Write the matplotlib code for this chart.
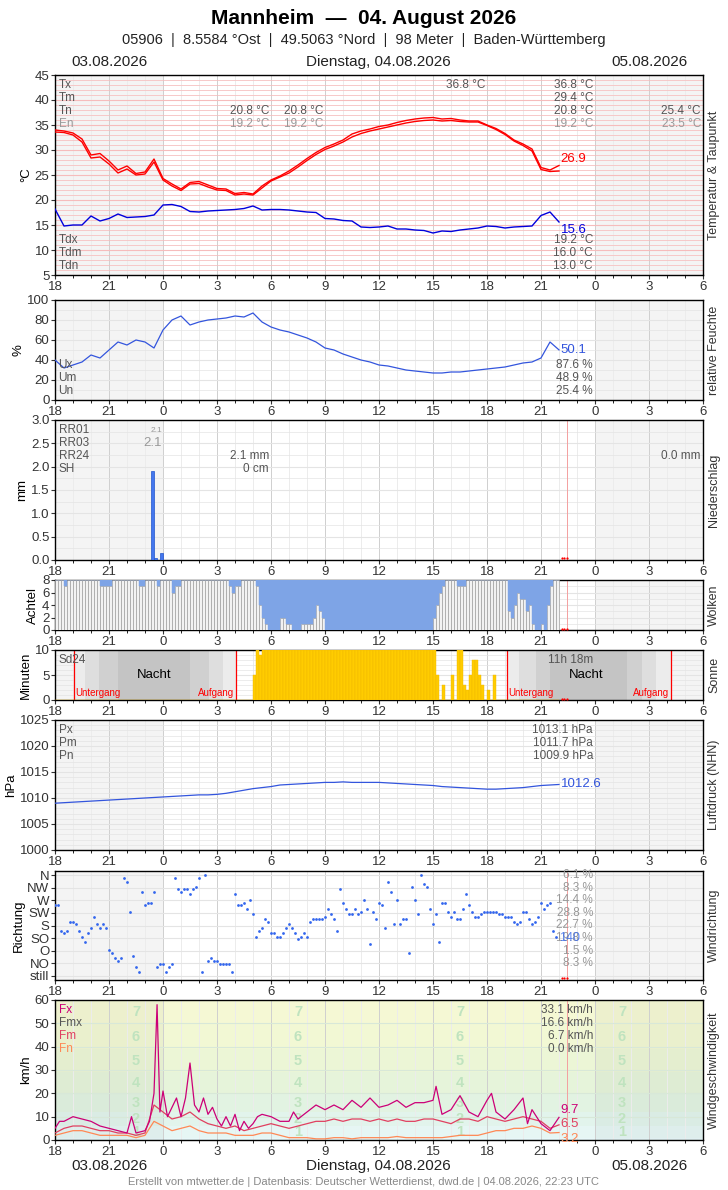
import numpy as np
import matplotlib
matplotlib.use("Agg")
import matplotlib.pyplot as plt

plt.rcParams['font.family'] = ['Liberation Sans', 'DejaVu Sans']

# ---------------- data ----------------
xtick_labels = ['18', '21', '0', '3', '6', '9', '12', '15', '18', '21', '0', '3', '6']

temp_a = [34.0, 33.8, 33.4, 32.2, 29.0, 29.3, 27.8, 26.0, 26.8, 25.3, 25.6, 28.2,
          24.3, 23.2, 22.2, 23.5, 23.7, 23.0, 22.3, 22.2, 21.3, 21.5, 21.2, 22.8,
          24.0, 24.8, 25.8, 27.0, 28.3, 29.5, 30.5, 31.2, 32.0, 33.2, 33.8, 34.2,
          34.7, 35.0, 35.5, 35.9, 36.2, 36.4, 36.5, 36.2, 36.3, 36.0, 35.8, 35.8,
          35.0, 34.3, 33.3, 32.0, 31.2, 30.2, 26.5, 26.0, 26.9]
temp_b = [33.6, 33.5, 33.0, 31.6, 28.4, 28.6, 27.2, 25.4, 26.2, 25.0, 25.2, 27.6,
          24.0, 22.8, 21.9, 23.2, 23.3, 22.6, 22.0, 21.9, 21.0, 21.2, 21.0, 22.4,
          23.8, 24.6, 25.4, 26.6, 27.9, 29.1, 30.1, 30.8, 31.6, 32.6, 33.3, 33.8,
          34.2, 34.6, 35.0, 35.4, 35.7, 35.9, 36.0, 35.8, 35.9, 35.7, 35.6, 35.6,
          34.9, 34.1, 33.1, 31.8, 30.9, 29.8, 26.1, 25.7, 25.8]
dewpoint = [18.2, 14.8, 15.0, 15.0, 16.8, 15.8, 16.3, 17.2, 16.5, 16.6, 16.7, 17.0,
            19.0, 19.1, 18.7, 17.7, 17.6, 17.8, 17.9, 18.0, 18.1, 18.3, 18.8, 18.0,
            18.1, 18.1, 18.0, 17.8, 17.6, 17.5, 16.3, 16.2, 15.9, 15.8, 14.6, 14.5,
            14.6, 14.8, 14.2, 14.2, 14.0, 13.9, 13.4, 13.8, 13.7, 14.0, 14.2, 14.4,
            14.8, 14.7, 14.4, 14.6, 14.7, 14.8, 16.9, 17.6, 15.6]
humidity = [40, 32, 35, 38, 45, 42, 50, 58, 55, 60, 58, 52,
            70, 80, 84, 75, 78, 80, 81, 82, 84, 83, 87, 78,
            73, 70, 68, 65, 62, 58, 52, 50, 46, 43, 40, 38,
            35, 34, 32, 30, 29, 28, 27, 27, 28, 28, 29, 30,
            31, 32, 33, 35, 37, 38, 42, 58, 50.1]
pressure = [1009.0, 1009.1, 1009.2, 1009.3, 1009.4, 1009.5, 1009.6, 1009.7, 1009.8, 1009.9, 1010.0, 1010.1,
            1010.2, 1010.3, 1010.4, 1010.5, 1010.6, 1010.6, 1010.7, 1010.9, 1011.2, 1011.5, 1011.8, 1012.0,
            1012.2, 1012.5, 1012.6, 1012.7, 1012.8, 1012.9, 1013.0, 1013.0, 1013.1, 1013.0, 1013.0, 1013.0,
            1013.0, 1012.9, 1012.8, 1012.7, 1012.6, 1012.5, 1012.4, 1012.2, 1012.1, 1012.0, 1011.9, 1011.8,
            1011.7, 1011.7, 1011.8, 1011.9, 1012.0, 1012.2, 1012.4, 1012.5, 1012.6]
wind_mean = [3, 5, 6, 6, 5, 4, 4, 3, 3, 2, 3, 15,
             12, 9, 10, 12, 9, 7, 6, 5, 6, 4, 5, 6,
             7, 6, 5, 6, 7, 8, 8, 9, 8, 9, 9, 8,
             9, 8, 9, 8, 8, 9, 9, 8, 7, 9, 9, 8,
             10, 9, 8, 9, 10, 9, 8, 5, 6.5]
wind_min = [2, 3, 4, 4, 3, 2, 2, 2, 2, 1, 2, 8,
            6, 4, 5, 6, 4, 3, 3, 3, 2, 2, 2, 3,
            3, 2, 1, 1, 1, 0.5, 0.5, 1, 1, 0.5, 1, 1,
            1, 1, 1.5, 1, 1, 1, 1, 1, 1.5, 2, 2, 2,
            3, 4, 4, 5, 5, 6, 5, 3, 3.2]
gust_t = [0, 0.25, 0.5, 1, 1.5, 2, 2.5, 3, 3.5, 4, 4.25, 4.5, 5, 5.25, 5.5, 5.67, 5.83, 6, 6.25, 6.5,
          6.75, 7, 7.25, 7.5, 7.75, 8, 8.25, 8.5, 8.75, 9, 9.25, 9.5, 9.75, 10, 10.25, 10.5, 10.75, 11,
          11.25, 11.5, 12, 12.5, 13, 13.25, 13.5, 14, 14.5, 15, 15.5, 16, 16.5, 17, 17.5, 18, 18.5, 19,
          19.5, 20, 20.5, 21, 21.17, 21.5, 22, 22.5, 23, 23.5, 24, 24.25, 24.5, 25, 25.5, 26, 26.25,
          26.5, 27, 27.5, 28]
gust_v = [5, 8, 8, 10, 9, 8, 6, 5, 4, 3, 10, 3, 4, 8, 20, 58, 12, 21, 10, 14,
          18, 10, 18, 33, 15, 12, 18, 11, 14, 9, 6, 10, 6, 11, 4, 8, 5, 7,
          10, 11, 10, 8, 8, 12, 9, 12, 15, 13, 15, 13, 17, 14, 18, 14, 15, 17,
          14, 16, 16, 17, 23, 11, 13, 19, 12, 10, 17, 20, 12, 9, 13, 18, 7,
          13, 7, 4, 9.7]

clouds = ([8, 8, 8, 7, 8, 8] + [8] * 6 + [8, 8, 8, 7, 7, 7] + [7, 8, 8, 8, 8, 8] +
          [8, 8, 8, 8, 7, 7] + [8, 8, 8, 8, 7, 8] + [8, 8, 8, 6, 7, 7] + [8] * 6 + [8] * 6 +
          [8, 8, 8, 8, 7, 6] + [7, 7, 8, 8, 8, 8] + [8, 7, 4, 2, 1, 0] + [0, 0, 0, 2, 2, 1] +
          [1, 0, 0, 0, 1, 1] + [1, 1, 2, 4, 3, 2] + [0] * 36 + [2, 4, 6, 7, 8, 8] +
          [8, 8, 7, 7, 7, 8] + [8] * 12 + [8, 3, 2, 4, 6, 5] + [5, 3, 4, 1, 0, 0] + [1, 0, 4, 7, 8, 8])
sunshine = ([0] * 66 + [5, 10, 9, 10, 10, 10] + [10] * 54 + [10, 5, 0, 3, 0, 0] +
            [5, 0, 10, 10, 3, 2] + [5, 8, 8, 5, 3, 0] + [2, 0, 5, 0, 0, 0] + [0] * 18)
precip_t = [5.33, 5.5, 5.83]
precip_v = [1.9, 0.05, 0.15]

wind_dir = [5.6, 5.6, 3.6, 3.4, 3.6, 4.3, 4.3, 4.1, 3.6, 3.1, 2.7, 3.4, 3.8, 4.7, 4.1, 3.8, 4.1, 3.8,
            2.05, 1.8, 1.4, 1.2, 1.4, 7.8, 7.5, 5.1, 1.6, 0.7, 0.3, 6.7, 5.6, 5.8, 5.8, 6.7, 0.7, 0.9,
            0.9, 0.3, 0.7, 0.9, 7.8, 6.9, 6.7, 6.9, 6.9, 6.5, 6.9, 7.1, 7.8, 0.3, 8.0, 1.2, 1.4, 1.2,
            1.2, 0.9, 0.9, 0.9, 0.9, 0.3, 6.5, 5.6, 5.6, 5.8, 5.3, 6.0, 4.9, 3.1, 3.6, 3.8, 4.5, 4.3,
            3.4, 3.4, 3.1, 3.1, 3.4, 3.8, 4.1, 3.8, 3.4, 2.9, 3.1, 3.4, 3.1, 4.3, 4.5, 4.5, 4.5, 4.5,
            4.7, 5.3, 4.9, 4.5, 3.6, 6.9, 5.8, 5.3, 4.9, 4.9, 5.3, 4.9, 5.1, 6.0, 5.3, 2.5, 5.1, 4.5,
            5.8, 5.6, 3.8, 7.5, 6.7, 4.1, 6.0, 4.1, 4.5, 4.5, 1.8, 7.1, 6.0, 4.9, 8.0, 7.3, 7.1, 5.3,
            4.1, 4.9, 2.7, 5.8, 5.8, 5.1, 4.7, 5.1, 4.5, 4.5, 5.3, 6.5, 5.6, 5.1, 4.7, 4.7, 4.9, 5.1,
            5.1, 5.1, 5.1, 5.1, 4.9, 4.9, 4.7, 4.7, 4.7, 4.3, 4.1, 4.3, 5.1, 5.1, 4.5, 4.1, 4.3, 4.7,
            5.8, 5.3, 5.6, 5.8, 3.6, 3.1]
dir_labels = ['still', 'NO', 'O', 'SO', 'S', 'SW', 'W', 'NW', 'N']
dir_pct = ['6.1 %', '8.3 %', '14.4 %', '28.8 %', '22.7 %', '19.8 %', '1.5 %', '8.3 %']

# ---------------- helpers ----------------
W, H = 728, 1190
fig = plt.figure(figsize=(W / 100, H / 100), dpi=100)
L, R = 55, 703
GRAY = '#555555'
t_half = np.arange(len(temp_a)) * 0.5
t_10 = np.arange(len(clouds)) / 6.0


def panel(top, bot):
    return fig.add_axes([L / W, 1 - bot / H, (R - L) / W, (bot - top) / H])


def setup(ax, ylim, yticks, ylabel, rlabel, hcolor='#e4e4e4', hminor=None, shade=True):
    ax.set_xlim(0, 36)
    ax.set_ylim(*ylim)
    ax.set_xticks(np.arange(0, 37, 3))
    ax.set_xticklabels(xtick_labels)
    ax.set_xticks(np.arange(0, 37, 1), minor=True)
    ax.set_yticks(yticks)
    ax.tick_params(labelsize=9.5, length=3, pad=1, colors='#333333')
    ax.tick_params(which='minor', length=2)
    if shade:
        ax.axvspan(0, 6, color='#f4f4f4', zorder=0, lw=0)
        ax.axvspan(30, 36, color='#f4f4f4', zorder=0, lw=0)
    for x in range(1, 36):
        ax.axvline(x, color='#cfcfcf' if x % 3 == 0 else '#ececec', lw=0.7, zorder=0.5)
    if hminor is not None:
        for y in hminor:
            ax.axhline(y, color=hcolor, lw=0.5, zorder=0.5)
    for y in yticks:
        ax.axhline(y, color=hcolor, lw=0.8, zorder=0.6)
    ax.set_ylabel(ylabel, fontsize=9.5, labelpad=2)
    ax.text(1.008, 0.5, rlabel, transform=ax.transAxes, rotation=90, va='center', ha='left',
            fontsize=9, color='#333333')
    for s in ax.spines.values():
        s.set_linewidth(1.0)


def ytxt(ax, top_px, ax_top, ax_bot, ylim):
    frac = (ax_bot - top_px) / (ax_bot - ax_top)
    return ylim[0] + frac * (ylim[1] - ylim[0])


def label(ax, x, ypx, s, box, ylim, color=GRAY, ha='left', size=8.5):
    ax.text(x, ytxt(ax, ypx, box[0], box[1], ylim), s, color=color, ha=ha, va='center', fontsize=size)


def missing(ax, ylim):
    ax.plot([28.15, 28.3, 28.45], [ylim[0] + 0.015 * (ylim[1] - ylim[0])] * 3, 'o', color='red',
            ms=1.6, mew=0, clip_on=False, zorder=6)


def nowline(ax):
    ax.axvline(28.45, color='#f4a0a0', lw=0.7, zorder=1)

# ---------------- titles ----------------
fig.text(0.5, 1 - 18 / H, 'Mannheim  —  04. August 2026', ha='center', va='center', fontsize=15,
         fontweight='bold')
fig.text(0.5, 1 - 40 / H, '05906  |  8.5584 °Ost  |  49.5063 °Nord  |  98 Meter  |  Baden-Württemberg',
         ha='center', va='center', fontsize=10.5, color='#222222')
for yy in (62, 1166):
    fig.text(109 / W, 1 - yy / H, '03.08.2026', ha='center', va='center', fontsize=11, color='#222222')
    fig.text(378 / W, 1 - yy / H, 'Dienstag, 04.08.2026', ha='center', va='center', fontsize=11, color='#222222')
    fig.text(649 / W, 1 - yy / H, '05.08.2026', ha='center', va='center', fontsize=11, color='#222222')
fig.text(0.5, 1 - 1182 / H, 'Erstellt von mtwetter.de | Datenbasis: Deutscher Wetterdienst, dwd.de | 04.08.2026, 22:23 UTC',
         ha='center', va='center', fontsize=8, color='#888888')

# ---------------- temperature ----------------
box = (75, 275); yl = (5, 45)
ax = panel(*box)
setup(ax, yl, np.arange(5, 46, 5), '°C', 'Temperatur & Taupunkt', hcolor='#f6bcbc',
      hminor=np.arange(5, 46, 1))
for y in np.arange(5, 46, 1):
    ax.axhline(y, color='#fbe4e4', lw=0.5, zorder=0.4)
ax.plot(t_half, temp_a, color='red', lw=1.0, zorder=3)
ax.plot(t_half, temp_b, color='red', lw=1.0, zorder=3)
ax.plot(t_half, dewpoint, color='#0000dd', lw=1.0, zorder=3)
for n, yp in zip(['Tx', 'Tm', 'Tn', 'En'], [85, 98, 111, 124]):
    label(ax, 0.2, yp, n, box, yl, color=GRAY if n != 'En' else '#999999')
for n, yp in zip(['Tdx', 'Tdm', 'Tdn'], [240, 253, 266]):
    label(ax, 0.2, yp, n, box, yl)
xr = (593 - L) / 18
for s, yp in zip(['36.8 °C', '29.4 °C', '20.8 °C', '19.2 °C'], [85, 98, 111, 124]):
    label(ax, xr, yp, s, box, yl, ha='right', color=GRAY if s != '19.2 °C' else '#999999')
for s, yp in zip(['19.2 °C', '16.0 °C', '13.0 °C'], [240, 253, 266]):
    label(ax, xr, yp, s, box, yl, ha='right')
label(ax, (485 - L) / 18, 85, '36.8 °C', box, yl, ha='right')
for xx in (269, 323):
    label(ax, (xx - L) / 18, 111, '20.8 °C', box, yl, ha='right')
    label(ax, (xx - L) / 18, 124, '19.2 °C', box, yl, ha='right', color='#999999')
label(ax, (701 - L) / 18, 111, '25.4 °C', box, yl, ha='right')
label(ax, (701 - L) / 18, 124, '23.5 °C', box, yl, ha='right', color='#999999')
ax.text(28.1, 28.2, '26.9', color='red', fontsize=9.5, va='center')
ax.text(28.1, 14.0, '15.6', color='#0000dd', fontsize=9.5, va='center')

# ---------------- humidity ----------------
box = (300, 400); yl = (0, 100)
ax = panel(*box)
setup(ax, yl, np.arange(0, 101, 20), '%', 'relative Feuchte', hminor=np.arange(0, 101, 10))
ax.plot(t_half, humidity, color='#3355dd', lw=0.9, zorder=3)
for n, yp in zip(['Ux', 'Um', 'Un'], [365, 378, 391]):
    label(ax, 0.2, yp, n, box, yl)
for s, yp in zip(['87.6 %', '48.9 %', '25.4 %'], [365, 378, 391]):
    label(ax, xr, yp, s, box, yl, ha='right')
ax.text(28.1, 50.1, '50.1', color='#3355dd', fontsize=9.5, va='center')

# ---------------- precipitation ----------------
box = (420, 560); yl = (0, 3)
ax = panel(*box)
setup(ax, yl, np.arange(0, 3.01, 0.5), 'mm', 'Niederschlag', hminor=np.arange(0, 3.01, 0.25))
ax.set_yticklabels(['0.0', '0.5', '1.0', '1.5', '2.0', '2.5', '3.0'])
ax.bar(precip_t, precip_v, width=1 / 6 * 0.9, align='edge', color='#4477ee', edgecolor='#2255cc', lw=0.5, zorder=3)
for n, yp in zip(['RR01', 'RR03', 'RR24', 'SH'], [430, 443, 456, 469]):
    label(ax, 0.2, yp, n, box, yl)
label(ax, (162 - L) / 18, 430, '2.1', box, yl, ha='right', color='#999999', size=6)
label(ax, (162 - L) / 18, 443, '2.1', box, yl, ha='right', color='#999999', size=9.5)
label(ax, (269 - L) / 18, 456, '2.1 mm', box, yl, ha='right')
label(ax, (269 - L) / 18, 469, '0 cm', box, yl, ha='right')
label(ax, (701 - L) / 18, 456, '0.0 mm', box, yl, ha='right')
nowline(ax); missing(ax, yl)

# ---------------- clouds ----------------
box = (580, 630); yl = (0, 8)
ax = panel(*box)
setup(ax, yl, np.arange(0, 9, 2), 'Achtel', 'Wolken', hminor=np.arange(0, 9, 1))
cl = np.array(clouds, dtype=float)
ax.bar(t_10, cl, width=1 / 6, align='edge', color='#f2f2f2', edgecolor='#a0a0a0', lw=0.5, zorder=3)
ax.bar(t_10, 8 - cl, bottom=cl, width=1 / 6, align='edge', color='#7ea4e6', edgecolor='#7ea4e6', lw=0.3, zorder=3)
nowline(ax); missing(ax, yl)

# ---------------- sunshine ----------------
box = (650, 700); yl = (0, 10)
ax = panel(*box)
setup(ax, yl, [0, 5, 10], 'Minuten', 'Sonne', hminor=np.arange(0, 11, 1))
for (a, b, c) in [(1.04, 10.03, '#ececec'), (1.68, 9.33, '#dedede'), (2.46, 8.55, '#d0d0d0'), (3.5, 7.5, '#c4c4c4'),
                  (25.1, 34.2, '#ececec'), (25.8, 33.4, '#dedede'), (26.7, 32.6, '#d0d0d0'), (27.5, 31.8, '#c4c4c4')]:
    ax.axvspan(a, b, color=c, zorder=0.7, lw=0)
for x in (1.04, 10.03, 25.1, 34.2):
    ax.axvline(x, color='red', lw=0.9, zorder=2)
ax.bar(t_10, sunshine, width=1 / 6, align='edge', color='#ffcc00', edgecolor='#f0b800', lw=0.3, zorder=3)
ax.text(5.5, 5, 'Nacht', fontsize=9.5, ha='center', va='center', zorder=4)
ax.text(29.5, 5, 'Nacht', fontsize=9.5, ha='center', va='center', zorder=4)
for x0, x1 in [(1.04, 10.03), (25.1, 34.2)]:
    ax.text(x0 + 0.1, 1.3, 'Untergang', color='red', fontsize=7, va='center', zorder=4)
    ax.text(x1 - 0.1, 1.3, 'Aufgang', color='red', fontsize=7, va='center', ha='right', zorder=4)
ax.text(0.2, 8.0, 'Sd24', color=GRAY, fontsize=8.5, va='center', zorder=4)
ax.text(xr, 8.0, '11h 18m', color=GRAY, fontsize=8.5, va='center', ha='right', zorder=4)
missing(ax, yl)

# ---------------- pressure ----------------
box = (720, 850); yl = (1000, 1025)
ax = panel(*box)
setup(ax, yl, np.arange(1000, 1026, 5), 'hPa', 'Luftdruck (NHN)', hminor=np.arange(1000, 1026, 1))
ax.plot(t_half, pressure, color='#3355dd', lw=0.9, zorder=3)
for n, yp in zip(['Px', 'Pm', 'Pn'], [730, 743, 756]):
    label(ax, 0.2, yp, n, box, yl)
for s, yp in zip(['1013.1 hPa', '1011.7 hPa', '1009.9 hPa'], [730, 743, 756]):
    label(ax, xr, yp, s, box, yl, ha='right')
ax.text(28.1, 1012.6, '1012.6', color='#3355dd', fontsize=9.5, va='center')

# ---------------- wind direction ----------------
box = (871, 980); yl = (-0.35, 8.35)
ax = panel(*box)
setup(ax, yl, np.arange(0, 9), 'Richtung', 'Windrichtung')
ax.set_yticklabels(dir_labels)
td = np.arange(len(wind_dir)) / 6.0
ax.scatter(td, wind_dir, s=4, color='#3366ee', zorder=3, lw=0)
for i, s in enumerate(dir_pct):
    ax.text(xr, 8 - i, s, color='#999999', ha='right', va='center', fontsize=8.5)
ax.text(28.0, 3.0, '140', color='#3366ee', fontsize=9, va='center', alpha=0.8)
nowline(ax); missing(ax, yl)

# ---------------- wind speed ----------------
box = (1000, 1140); yl = (0, 60)
ax = panel(*box)
setup(ax, yl, np.arange(0, 61, 10), 'km/h', 'Windgeschwindigkeit', hcolor='#d8e8d8', shade=False)
bounds = [0, 1, 6, 12, 20, 29, 39, 50, 60]
bcols = ['#e8f8fa', '#e6f6f4', '#e2f4ec', '#e2f3e2', '#e6f4da', '#ecf6d6', '#f2f8d4', '#f5f8d4']
for a, b, c in zip(bounds[:-1], bounds[1:], bcols):
    ax.axhspan(a, b, color=c, zorder=0, lw=0)
ax.axvspan(0, 6, color='#000000', alpha=0.03, zorder=0.1, lw=0)
ax.axvspan(30, 36, color='#000000', alpha=0.03, zorder=0.1, lw=0)
for xb in (4.5, 13.5, 22.5, 31.5):
    for n, yv in zip(range(1, 8), [3.5, 9, 16, 24.5, 34, 44, 55]):
        ax.text(xb, yv, str(n), color='#bfe3bf', fontsize=10.5, ha='center', va='center', zorder=0.8, fontweight='bold')
ax.plot(t_half, wind_min, color='#ff8855', lw=0.9, zorder=3)
ax.plot(t_half, wind_mean, color='#e04060', lw=0.9, zorder=3)
ax.plot(gust_t, gust_v, color='#cc0077', lw=0.9, zorder=3)
for n, yp, c in zip(['Fx', 'Fmx', 'Fm', 'Fn'], [1010, 1023, 1036, 1049], ['#cc0077', GRAY, '#e04060', '#ff8855']):
    label(ax, 0.2, yp, n, box, yl, color=c)
for s, yp in zip(['33.1 km/h', '16.6 km/h', '6.7 km/h', '0.0 km/h'], [1010, 1023, 1036, 1049]):
    label(ax, xr, yp, s, box, yl, ha='right')
ax.text(28.1, 13.0, '9.7', color='#cc0077', fontsize=9.5, va='center')
ax.text(28.1, 6.8, '6.5', color='#e04060', fontsize=9.5, va='center')
ax.text(28.1, 0.6, '3.2', color='#ff8855', fontsize=9.5, va='center')
nowline(ax)

fig.savefig('out.png', dpi=100)
